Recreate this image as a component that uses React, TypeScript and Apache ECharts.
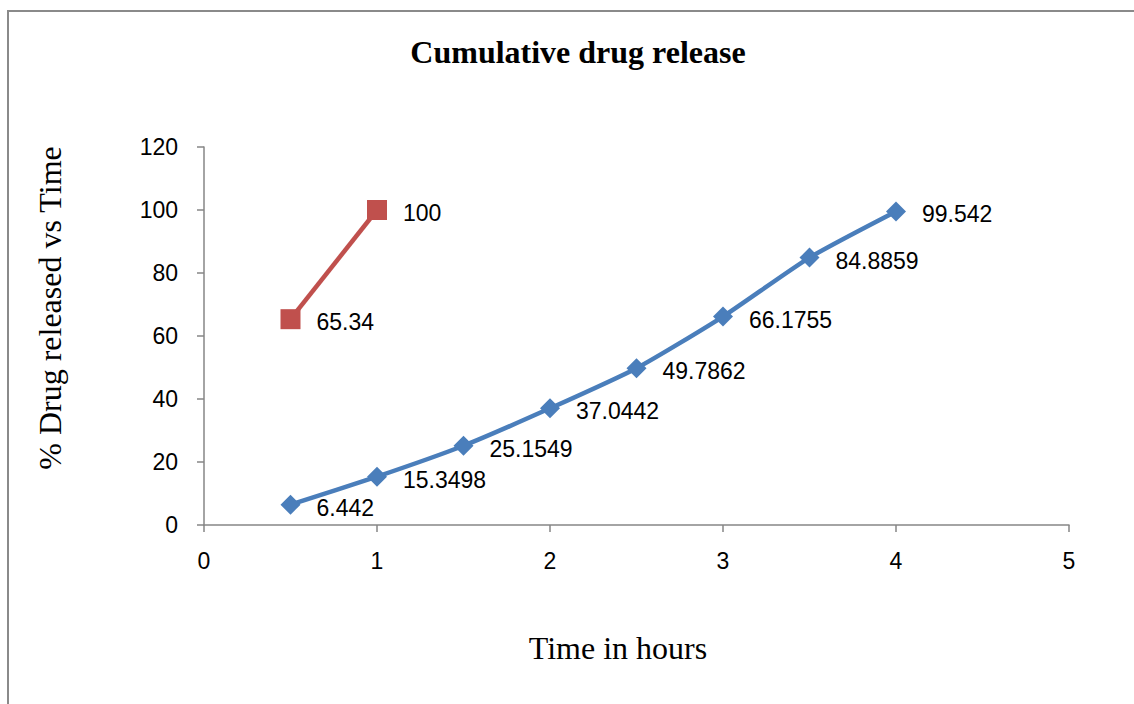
import React, { useEffect, useRef } from "react";
import * as echarts from "echarts";

const blueTimes = [0.5, 1, 1.5, 2, 2.5, 3, 3.5, 4];
const blueValues = [6.442, 15.3498, 25.1549, 37.0442, 49.7862, 66.1755, 84.8859, 99.542];
const redTimes = [0.5, 1];
const redValues = [65.34, 100];

const titleText = "Cumulative drug release";
const xName = "Time in hours";
const yName = "% Drug released vs Time";

const labelFont = "'Liberation Sans', Arial, sans-serif";
const serif = "'Liberation Serif', 'Times New Roman', serif";

export default function App() {
  const ref = useRef<HTMLDivElement>(null);
  useEffect(() => {
    if (!ref.current) return;
    const chart = echarts.init(ref.current, undefined, { renderer: "svg" });
    const label = {
      show: true,
      position: "right",
      distance: 16,
      offset: [0, 3],
      color: "#000",
      fontSize: 23,
      fontFamily: labelFont,
    };
    chart.setOption({
      animation: false,
      backgroundColor: "#fff",
      grid: { left: 204, right: 65, top: 147, bottom: 179, containLabel: false },
      xAxis: {
        type: "value",
        min: 0,
        max: 5,
        interval: 1,
        axisLine: { show: true, lineStyle: { color: "#868686", width: 1.5 } },
        axisTick: { show: true, length: 7, inside: false, lineStyle: { color: "#868686", width: 1.5 } },
        splitLine: { show: false },
        axisLabel: { color: "#000", fontSize: 23, fontFamily: labelFont, margin: 24 },
      },
      yAxis: {
        type: "value",
        min: 0,
        max: 120,
        interval: 20,
        axisLine: { show: true, lineStyle: { color: "#868686", width: 1.5 } },
        axisTick: { show: true, length: 7, inside: false, lineStyle: { color: "#868686", width: 1.5 } },
        splitLine: { show: false },
        axisLabel: { color: "#000", fontSize: 23, fontFamily: labelFont, margin: 26 },
      },
      series: [
        {
          type: "line",
          data: blueTimes.map((t, i) => [t, blueValues[i]]),
          smooth: 0.2,
          symbol: "diamond",
          symbolSize: 20,
          lineStyle: { color: "#4A7EBB", width: 4.5 },
          itemStyle: { color: "#4A7EBB" },
          label,
          z: 3,
        },
        {
          type: "line",
          data: redTimes.map((t, i) => [t, redValues[i]]),
          symbol: "rect",
          symbolSize: 20,
          lineStyle: { color: "#C0504D", width: 4.5 },
          itemStyle: { color: "#C0504D" },
          label,
          z: 3,
        },
      ],
      graphic: [
        {
          type: "rect",
          shape: { x: 8, y: 11, width: 1200, height: 800 },
          style: { fill: "none", stroke: "#8a8a8a", lineWidth: 2 },
          silent: true,
          z: 0,
        },
        {
          type: "text",
          x: 578,
          y: 52,
          style: {
            text: titleText,
            font: `bold 32px ${serif}`,
            fill: "#000",
            align: "center",
            verticalAlign: "middle",
          },
        },
        {
          type: "text",
          x: 618,
          y: 648,
          style: {
            text: xName,
            font: `32px ${serif}`,
            fill: "#000",
            align: "center",
            verticalAlign: "middle",
          },
        },
        {
          type: "text",
          x: 50,
          y: 308,
          rotation: Math.PI / 2,
          style: {
            text: yName,
            font: `32px ${serif}`,
            fill: "#000",
            align: "center",
            verticalAlign: "middle",
          },
        },
      ],
    });
    return () => chart.dispose();
  }, []);
  return (
    <div
      ref={ref}
      style={{ position: "fixed", left: 0, top: 0, width: 1134, height: 704 }}
    />
  );
}
